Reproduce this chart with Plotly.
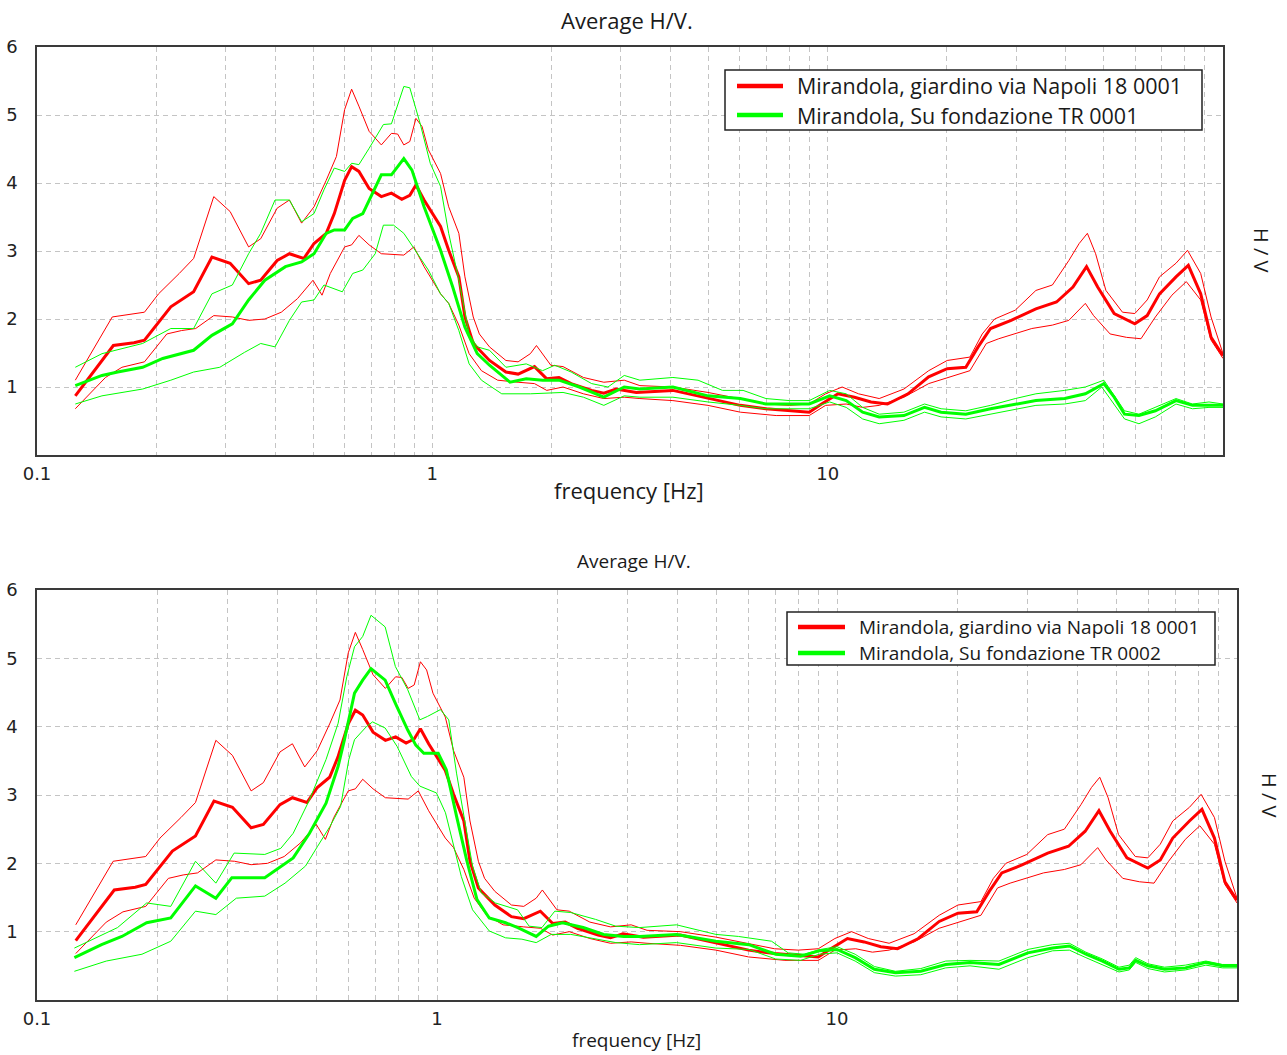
import plotly.graph_objects as go

# ---- H/V spectral ratio: Mirandola, garden via Napoli 18 (record 0001) ----
RED_MEAN_F = [0.125, 0.156, 0.176, 0.187, 0.218, 0.249, 0.277, 0.308, 0.343, 0.368, 0.405, 0.435,
              0.473, 0.502, 0.539, 0.565, 0.600, 0.625, 0.652, 0.692, 0.743, 0.788, 0.837, 0.877,
              0.909, 0.953, 1.049, 1.100, 1.167, 1.209, 1.269, 1.395, 1.535, 1.648, 1.813, 1.947,
              2.091, 2.245, 2.529, 2.715, 2.917, 3.28, 4.06, 4.98, 6.01, 6.98, 8.00, 8.98, 9.65,
              10.62, 11.69, 12.87, 14.17, 15.97, 18.01, 20.06, 22.36, 24.02, 25.82, 29.11, 33.63,
              37.92, 41.73, 45.17, 48.19, 53.06, 59.84, 64.30, 69.09, 76.05, 81.72, 87.82, 93.28, 100]
RED_MEAN_V = [0.87, 1.61, 1.65, 1.69, 2.18, 2.40, 2.91, 2.82, 2.52, 2.57, 2.86, 2.96,
              2.89, 3.11, 3.26, 3.55, 4.04, 4.24, 4.17, 3.92, 3.80, 3.85, 3.76, 3.82,
              3.97, 3.75, 3.36, 3.01, 2.62, 2.03, 1.64, 1.39, 1.22, 1.19, 1.30, 1.12,
              1.14, 1.05, 0.95, 0.91, 0.97, 0.92, 0.95, 0.83, 0.73, 0.68, 0.65, 0.63, 0.75,
              0.90, 0.85, 0.78, 0.75, 0.90, 1.15, 1.27, 1.29, 1.59, 1.86, 1.98, 2.15,
              2.25, 2.47, 2.77, 2.47, 2.08, 1.93, 2.05, 2.37, 2.62, 2.79, 2.37, 1.73, 1.46]

RED_HI_F = [0.125, 0.155, 0.187, 0.203, 0.229, 0.249, 0.280, 0.308, 0.343, 0.368, 0.405, 0.435,
            0.467, 0.502, 0.539, 0.572, 0.600, 0.625, 0.652, 0.692, 0.743, 0.788, 0.817, 0.847,
            0.877, 0.909, 0.942, 0.977, 1.049, 1.100, 1.167, 1.209, 1.269, 1.315, 1.395, 1.535,
            1.648, 1.770, 1.834, 1.901, 1.994, 2.141, 2.411, 2.715, 3.058, 3.35, 4.06, 4.98,
            6.01, 6.98, 8.00, 8.98, 9.88, 10.88, 11.97, 13.50, 15.59, 18.01, 20.06, 22.90,
            24.60, 26.44, 29.82, 33.63, 37.02, 40.74, 43.27, 45.39, 47.62, 50.56, 55.68, 59.84,
            64.30, 69.09, 76.05, 81.33, 87.82, 93.28, 100]
RED_HI_V = [1.10, 2.03, 2.10, 2.37, 2.67, 2.89, 3.80, 3.58, 3.06, 3.18, 3.63, 3.75,
            3.41, 3.65, 4.04, 4.39, 5.08, 5.38, 5.13, 4.76, 4.56, 4.73, 4.72, 4.56,
            4.61, 4.95, 4.83, 4.49, 4.14, 3.65, 3.26, 2.62, 2.03, 1.78, 1.59, 1.39,
            1.37, 1.49, 1.61, 1.49, 1.32, 1.30, 1.14, 1.07, 1.10, 1.02, 1.00, 0.92,
            0.83, 0.75, 0.73, 0.75, 0.90, 1.00, 0.90, 0.83, 0.97, 1.24, 1.39, 1.44,
            1.78, 2.00, 2.13, 2.42, 2.50, 2.86, 3.11, 3.26, 2.96, 2.42, 2.10, 2.08,
            2.28, 2.62, 2.82, 3.01, 2.67, 2.03, 1.49]

RED_LO_F = [0.125, 0.149, 0.164, 0.187, 0.213, 0.232, 0.252, 0.280, 0.312, 0.343, 0.377, 0.415,
            0.456, 0.499, 0.526, 0.552, 0.600, 0.625, 0.652, 0.692, 0.743, 0.847, 0.898, 0.953,
            1.049, 1.100, 1.167, 1.239, 1.331, 1.463, 1.648, 1.813, 1.947, 2.141, 2.411, 2.715,
            3.058, 3.35, 4.06, 4.98, 6.01, 7.41, 8.98, 9.88, 11.14, 12.26, 13.50, 15.59,
            18.01, 20.06, 22.90, 25.20, 27.09, 32.83, 37.02, 40.74, 44.85, 47.05, 51.81, 57.03,
            62.03, 67.45, 74.25, 80.75, 87.82, 93.28, 100]
RED_LO_V = [0.68, 1.14, 1.29, 1.37, 1.78, 1.83, 1.86, 2.05, 2.03, 1.98, 2.00, 2.10,
            2.30, 2.57, 2.35, 2.67, 3.06, 3.09, 3.23, 3.09, 2.96, 2.94, 3.06, 2.77,
            2.37, 2.23, 1.91, 1.49, 1.24, 1.10, 1.07, 1.05, 0.95, 1.00, 0.90, 0.83,
            0.85, 0.83, 0.80, 0.73, 0.63, 0.58, 0.58, 0.73, 0.75, 0.70, 0.73, 0.85,
            1.05, 1.14, 1.24, 1.64, 1.71, 1.86, 1.91, 1.98, 2.23, 2.05, 1.78, 1.73,
            1.71, 2.03, 2.35, 2.55, 2.28, 1.69, 1.42]

# ---- H/V spectral ratio: Mirandola, on foundation TR (record 0001) ----
GRN1_MEAN_F = [0.125, 0.146, 0.160, 0.185, 0.208, 0.249, 0.277, 0.312, 0.343, 0.377, 0.425, 0.467,
               0.502, 0.539, 0.565, 0.600, 0.629, 0.667, 0.743, 0.788, 0.847, 0.888, 0.953, 1.049,
               1.126, 1.209, 1.299, 1.395, 1.572, 1.728, 1.901, 2.091, 2.354, 2.715, 3.058, 3.35,
               4.06, 4.98, 6.01, 6.98, 8.00, 8.98, 10.12, 11.14, 12.26, 13.50, 15.59, 17.58,
               19.36, 22.36, 25.82, 29.82, 33.63, 39.78, 44.85, 49.96, 53.06, 56.35, 61.29, 67.45,
               76.05, 83.71, 92.16, 100]
GRN1_MEAN_V = [1.02, 1.17, 1.22, 1.29, 1.42, 1.54, 1.76, 1.93, 2.28, 2.57, 2.77, 2.84,
               2.96, 3.26, 3.31, 3.31, 3.48, 3.55, 4.12, 4.12, 4.36, 4.19, 3.65, 3.01,
               2.47, 1.88, 1.49, 1.32, 1.07, 1.12, 1.10, 1.10, 1.00, 0.85, 1.00, 0.97,
               1.00, 0.87, 0.83, 0.75, 0.75, 0.75, 0.87, 0.80, 0.63, 0.56, 0.58, 0.70,
               0.63, 0.60, 0.68, 0.75, 0.80, 0.83, 0.90, 1.05, 0.85, 0.60, 0.58, 0.65,
               0.80, 0.73, 0.73, 0.73]

GRN1_HI_F = [0.125, 0.146, 0.185, 0.218, 0.249, 0.277, 0.312, 0.343, 0.368, 0.400, 0.435, 0.467,
             0.502, 0.532, 0.565, 0.600, 0.625, 0.652, 0.692, 0.752, 0.788, 0.847, 0.877, 0.931,
             0.988, 1.049, 1.100, 1.167, 1.239, 1.299, 1.395, 1.535, 1.728, 1.901, 2.041, 2.245,
             2.529, 2.781, 3.058, 3.35, 4.06, 4.70, 5.42, 6.11, 6.98, 8.00, 8.98, 10.12,
             11.14, 12.26, 13.50, 15.59, 17.58, 19.36, 22.36, 25.82, 29.82, 33.63, 39.78, 44.85,
             49.96, 53.06, 56.35, 61.29, 67.45, 76.05, 83.71, 92.16, 100]
GRN1_HI_V = [1.29, 1.49, 1.64, 1.86, 1.86, 2.37, 2.50, 2.96, 3.26, 3.75, 3.75, 3.43,
             3.55, 3.90, 4.22, 4.17, 4.29, 4.27, 4.51, 4.86, 4.87, 5.42, 5.40, 4.88,
             4.29, 3.95, 3.26, 2.57, 1.78, 1.59, 1.54, 1.29, 1.34, 1.24, 1.32, 1.22,
             1.05, 1.00, 1.17, 1.10, 1.14, 1.10, 0.95, 0.95, 0.83, 0.80, 0.80, 0.95,
             0.90, 0.70, 0.60, 0.63, 0.75, 0.68, 0.65, 0.73, 0.83, 0.90, 0.95, 1.00,
             1.10, 0.87, 0.65, 0.60, 0.70, 0.83, 0.75, 0.78, 0.75]

GRN1_LO_F = [0.125, 0.146, 0.185, 0.218, 0.249, 0.290, 0.335, 0.368, 0.400, 0.435, 0.467, 0.502,
             0.532, 0.592, 0.629, 0.667, 0.717, 0.752, 0.798, 0.847, 0.898, 0.977, 1.049, 1.100,
             1.167, 1.239, 1.331, 1.498, 1.770, 2.141, 2.411, 2.715, 3.058, 3.35, 4.06, 4.98,
             6.01, 6.98, 8.98, 10.12, 11.14, 12.26, 13.50, 15.59, 17.58, 19.36, 22.36, 25.82,
             29.82, 33.63, 39.78, 44.85, 49.36, 53.06, 56.35, 61.29, 67.45, 76.05, 83.71, 92.16, 100]
GRN1_LO_V = [0.75, 0.87, 0.97, 1.10, 1.22, 1.29, 1.51, 1.64, 1.59, 1.98, 2.25, 2.28,
             2.50, 2.40, 2.67, 2.72, 2.96, 3.38, 3.38, 3.26, 3.04, 2.72, 2.37, 2.23,
             1.83, 1.34, 1.10, 0.90, 0.90, 0.92, 0.85, 0.73, 0.87, 0.85, 0.85, 0.78,
             0.73, 0.68, 0.68, 0.78, 0.70, 0.53, 0.46, 0.51, 0.63, 0.56, 0.53, 0.60,
             0.68, 0.73, 0.75, 0.80, 1.00, 0.75, 0.53, 0.46, 0.56, 0.75, 0.68, 0.70, 0.70]

# ---- H/V spectral ratio: Mirandola, on foundation TR (record 0002) ----
GRN2_MEAN_F = [0.124, 0.145, 0.163, 0.188, 0.216, 0.249, 0.280, 0.307, 0.371, 0.437, 0.480, 0.528,
               0.566, 0.587, 0.622, 0.652, 0.684, 0.742, 0.787, 0.845, 0.885, 0.927, 1.007, 1.055,
               1.119, 1.186, 1.259, 1.351, 1.484, 1.592, 1.770, 1.90, 2.06, 2.32, 2.61, 2.93,
               3.21, 3.97, 4.98, 6.02, 7.03, 8.11, 9.03, 10.0, 11.1, 12.4, 14.0, 16.2,
               18.7, 21.5, 25.4, 30.0, 34.6, 38.1, 41.9, 46.1, 50.7, 53.8, 55.8, 59.9,
               65.9, 74.3, 83.6, 92.0, 100]
GRN2_MEAN_V = [0.62, 0.81, 0.93, 1.13, 1.20, 1.67, 1.49, 1.79, 1.79, 2.08, 2.44, 2.88,
               3.42, 3.81, 4.49, 4.68, 4.85, 4.68, 4.34, 3.95, 3.73, 3.61, 3.61, 3.37,
               2.69, 2.05, 1.47, 1.20, 1.13, 1.06, 0.93, 1.08, 1.13, 1.06, 0.96, 0.93,
               0.93, 0.96, 0.86, 0.81, 0.67, 0.64, 0.72, 0.74, 0.62, 0.45, 0.40, 0.42,
               0.52, 0.55, 0.52, 0.69, 0.76, 0.79, 0.67, 0.57, 0.45, 0.47, 0.58, 0.50,
               0.45, 0.47, 0.55, 0.50, 0.50]

GRN2_HI_F = [0.124, 0.159, 0.188, 0.216, 0.249, 0.280, 0.311, 0.371, 0.407, 0.437, 0.480, 0.528,
             0.566, 0.595, 0.622, 0.652, 0.684, 0.742, 0.787, 0.845, 0.906, 0.947, 1.02, 1.07,
             1.119, 1.17, 1.227, 1.29, 1.40, 1.59, 1.70, 1.83, 1.97, 2.16, 2.49, 2.80,
             3.21, 3.97, 4.98, 5.67, 6.86, 7.55, 8.3, 9.1, 10.0, 11.1, 12.4, 14.0,
             16.2, 18.7, 21.5, 25.4, 30.0, 34.6, 38.1, 41.9, 46.1, 50.7, 53.8, 55.8,
             59.9, 65.9, 74.3, 83.6, 92.0, 100]
GRN2_HI_V = [0.76, 1.06, 1.42, 1.37, 2.03, 1.71, 2.15, 2.13, 2.22, 2.44, 2.93, 3.52,
             4.05, 4.73, 5.17, 5.32, 5.63, 5.46, 4.88, 4.54, 4.10, 4.15, 4.25, 4.10,
             3.32, 2.64, 1.96, 1.57, 1.42, 1.32, 1.08, 1.06, 1.30, 1.28, 1.18, 1.08,
             1.06, 1.10, 0.96, 0.93, 0.86, 0.69, 0.67, 0.74, 0.78, 0.67, 0.49, 0.42,
             0.46, 0.57, 0.58, 0.57, 0.74, 0.81, 0.83, 0.70, 0.60, 0.48, 0.51, 0.62,
             0.53, 0.48, 0.51, 0.57, 0.52, 0.52]

GRN2_LO_F = [0.124, 0.149, 0.183, 0.216, 0.249, 0.280, 0.315, 0.371, 0.417, 0.469, 0.503, 0.540,
             0.574, 0.602, 0.622, 0.666, 0.690, 0.742, 0.795, 0.863, 0.906, 0.997, 1.05, 1.10,
             1.15, 1.227, 1.351, 1.484, 1.63, 1.77, 1.93, 2.16, 2.49, 2.80, 3.21, 3.97,
             4.98, 6.02, 7.03, 8.11, 9.03, 10.0, 11.1, 12.4, 14.0, 16.2, 18.7, 21.5,
             25.4, 30.0, 34.6, 38.1, 41.9, 46.1, 50.7, 53.8, 55.8, 59.9, 65.9, 74.3,
             83.6, 92.0, 100]
GRN2_LO_V = [0.42, 0.57, 0.67, 0.86, 1.30, 1.25, 1.49, 1.52, 1.71, 1.96, 2.25, 2.54,
             2.83, 3.52, 3.81, 4.00, 4.07, 3.98, 3.71, 3.27, 3.13, 3.03, 2.74, 2.25,
             1.81, 1.32, 1.01, 0.91, 0.89, 0.84, 0.96, 0.96, 0.89, 0.84, 0.81, 0.84,
             0.76, 0.74, 0.60, 0.58, 0.67, 0.69, 0.57, 0.40, 0.35, 0.37, 0.47, 0.50,
             0.45, 0.62, 0.72, 0.73, 0.62, 0.52, 0.41, 0.44, 0.55, 0.46, 0.41, 0.44,
             0.51, 0.47, 0.47]

RED_NAME = "Mirandola, giardino via Napoli 18 0001"
GRN1_NAME = "Mirandola, Su fondazione TR 0001"
GRN2_NAME = "Mirandola, Su fondazione TR 0002"

# log-axis grid positions with labels only on the decades
X_TICKS = [0.1, 0.2, 0.3, 0.4, 0.5, 0.6, 0.7, 0.8, 0.9,
           1, 2, 3, 4, 5, 6, 7, 8, 9,
           10, 20, 30, 40, 50, 60, 70, 80, 90, 100]
X_LABELS = ["0.1"] + [""] * 8 + ["1"] + [""] * 8 + ["10"] + [""] * 9
Y_TICKS = [1, 2, 3, 4, 5, 6]

RED = "#ff0000"
GREEN = "#00ff00"
FONT = "Open Sans"
TICK_FONT = "DejaVu Sans"
TEXT_COLOR = "#1a1a1a"
W, H = 1287, 1055


def px(x):
    return x / W


def py(y):
    return 1 - y / H


fig = go.Figure()


def add_panel(xa, ya, green_sets, green_name):
    for f, v in [(RED_LO_F, RED_LO_V), (RED_HI_F, RED_HI_V)]:
        fig.add_trace(go.Scatter(x=f, y=v, mode="lines", xaxis=xa, yaxis=ya,
                                 line=dict(color=RED, width=1), showlegend=False,
                                 hoverinfo="skip"))
    fig.add_trace(go.Scatter(x=RED_MEAN_F, y=RED_MEAN_V, mode="lines", xaxis=xa, yaxis=ya,
                             name=RED_NAME, showlegend=False,
                             line=dict(color=RED, width=3)))
    (lo_f, lo_v), (hi_f, hi_v), (m_f, m_v) = green_sets
    for f, v in [(lo_f, lo_v), (hi_f, hi_v)]:
        fig.add_trace(go.Scatter(x=f, y=v, mode="lines", xaxis=xa, yaxis=ya,
                                 line=dict(color=GREEN, width=1), showlegend=False,
                                 hoverinfo="skip"))
    fig.add_trace(go.Scatter(x=m_f, y=m_v, mode="lines", xaxis=xa, yaxis=ya,
                             name=green_name, showlegend=False,
                             line=dict(color=GREEN, width=3)))


add_panel("x", "y",
          [(GRN1_LO_F, GRN1_LO_V), (GRN1_HI_F, GRN1_HI_V), (GRN1_MEAN_F, GRN1_MEAN_V)], GRN1_NAME)
add_panel("x2", "y2",
          [(GRN2_LO_F, GRN2_LO_V), (GRN2_HI_F, GRN2_HI_V), (GRN2_MEAN_F, GRN2_MEAN_V)], GRN2_NAME)

xaxis_style = dict(type="log", range=[-1, 2], tickmode="array", tickvals=X_TICKS,
                   ticktext=X_LABELS, showgrid=True, gridcolor="#c4c4c4", griddash="5px,4px",
                   gridwidth=1, showline=True, mirror=True, linecolor="#3a3a3a", linewidth=1.5,
                   ticks="", zeroline=False, automargin=False, ticklabelstandoff=2,
                   tickfont=dict(family=TICK_FONT, size=18, color="#222222"))
yaxis_style = dict(range=[0, 6], tickmode="array", tickvals=Y_TICKS, showgrid=True,
                   gridcolor="#c4c4c4", griddash="5px,4px", gridwidth=1, showline=True,
                   mirror=True, linecolor="#3a3a3a", linewidth=1.5, ticks="", zeroline=False,
                   automargin=False, ticklabelstandoff=14,
                   tickfont=dict(family=TICK_FONT, size=18, color="#222222"))

fig.update_layout(
    width=W, height=H, autosize=False,
    margin=dict(l=0, r=0, t=0, b=0, autoexpand=False),
    paper_bgcolor="white", plot_bgcolor="white",
    xaxis=dict(xaxis_style, domain=[px(37), px(1223)], anchor="y"),
    yaxis=dict(yaxis_style, domain=[py(455), py(47)], anchor="x"),
    xaxis2=dict(xaxis_style, domain=[px(37), px(1237)], anchor="y2"),
    yaxis2=dict(yaxis_style, domain=[py(1000), py(590)], anchor="x2"),
    showlegend=False,
    hovermode=False,
)

# legend boxes: (box left, top, right, bottom), sample start/end, text x, row ys, font size
legend_specs = [
    ((725, 70, 1202, 130), (737, 783), 795, (86, 115), 21.5, [(RED, RED_NAME), (GREEN, GRN1_NAME)]),
    ((787, 612, 1215, 665), (798, 845), 857, (627, 653), 19, [(RED, RED_NAME), (GREEN, GRN2_NAME)]),
]
for (bx0, by0, bx1, by1), (sx0, sx1), tx, rows, size, entries in legend_specs:
    fig.add_shape(type="rect", xref="paper", yref="paper",
                  x0=px(bx0), y0=py(by1), x1=px(bx1), y1=py(by0),
                  line=dict(color="#222222", width=1.5), fillcolor="white", layer="above")
    for ry, (color, name) in zip(rows, entries):
        fig.add_shape(type="line", xref="paper", yref="paper",
                      x0=px(sx0), y0=py(ry), x1=px(sx1), y1=py(ry),
                      line=dict(color=color, width=4.5), layer="above")
        fig.add_annotation(text=name, x=px(tx), y=py(ry), xref="paper", yref="paper",
                           xanchor="left", yanchor="middle", showarrow=False,
                           font=dict(family=FONT, size=size, color=TEXT_COLOR))

titles = [
    ("Average H/V.", 627, 20, 0, 22),
    ("frequency [Hz]", 629, 490, 0, 22),
    ("H / V", 1262, 250, 90, 20),
    ("Average H/V.", 634, 561, 0, 19),
    ("frequency [Hz]", 636, 1040, 0, 19),
    ("H / V", 1270, 795, 90, 20),
]
for text, x, y, ang, size in titles:
    fig.add_annotation(text=text, x=px(x), y=py(y), xref="paper", yref="paper",
                       xanchor="center", yanchor="middle", showarrow=False, textangle=ang,
                       font=dict(family=FONT, size=size, color=TEXT_COLOR))

fig.write_html("out.html")
